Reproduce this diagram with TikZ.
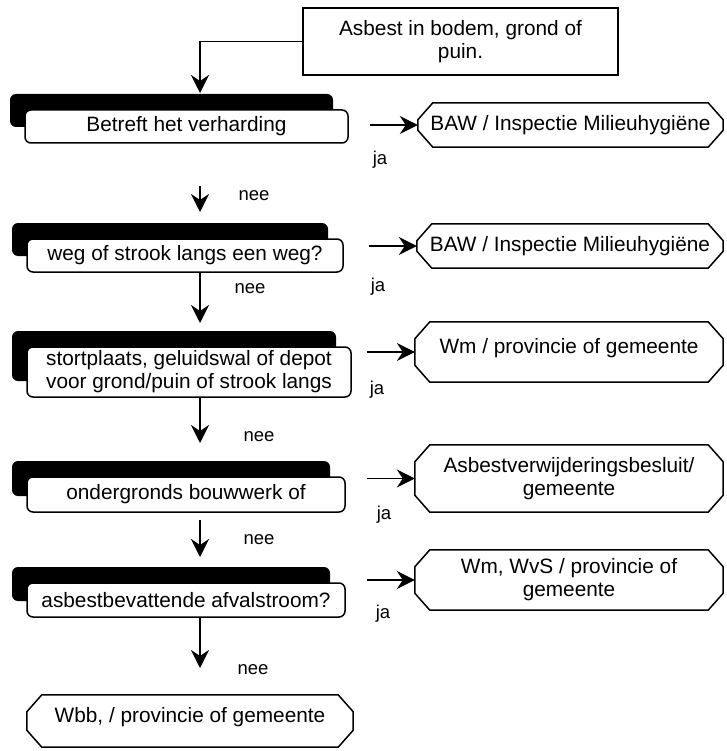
\documentclass[tikz,border=0pt]{standalone}
\usepackage{fontspec}
\setmainfont{Liberation Sans}
\usetikzlibrary{shadows,arrows.meta}
\newcommand\octobox[1]{\draw[line width=1.5pt, line join=miter]
  ([xshift=15pt]#1.north west) -- ([xshift=-15pt]#1.north east) -- ([yshift=-17pt]#1.north east)
  -- ([yshift=17pt]#1.south east) -- ([xshift=-15pt]#1.south east) -- ([xshift=15pt]#1.south west)
  -- ([yshift=17pt]#1.south west) -- ([yshift=-17pt]#1.north west) -- cycle;}
\begin{document}
\begin{tikzpicture}[x=1pt,y=-1pt,
  every node/.style={font=\fontsize{20.8}{23}\selectfont},
  decbox/.style={draw, fill=white, rounded corners=6pt, line width=1.5pt, inner sep=0pt, align=center,
    general shadow={fill=black, shadow xshift=-15pt, shadow yshift=16pt}},
  resbox/.style={inner sep=0pt, align=center},
  arr/.style={line width=1.5pt, -{Stealth[length=18pt,width=18pt,inset=6pt]}},
  lbl/.style={inner sep=0pt, font=\fontsize{18.5}{20}\selectfont},
]
\useasboundingbox (0,0) rectangle (726,751);

% start
\node[draw, line width=1.5pt, minimum width=315pt, minimum height=67pt, align=center, inner sep=0pt]
  (start) at (460.5,41.5) {Asbest in bodem, grond of\\puin.};

% decisions
\node[decbox, minimum width=323pt, minimum height=33pt] (b1) at (186.5,126.5) {Betreft het verharding};
\node[decbox, minimum width=316pt, minimum height=33pt] (b2) at (185,255.5) {weg of strook langs een weg?};
\node[decbox, minimum width=324pt, minimum height=50pt] (b3) at (189,372) {stortplaats, geluidswal of depot\\voor grond/puin of strook langs};
\node[decbox, minimum width=318pt, minimum height=35pt] (b4) at (186,494.5) {ondergronds bouwwerk of};
\node[decbox, minimum width=318pt, minimum height=34pt] (b5) at (186,600) {asbestbevattende afvalstroom?};

% results
\node[resbox, minimum width=305pt, minimum height=44pt] (r1) at (570.5,125) {BAW / Inspectie Milieuhygiëne};
\node[resbox, minimum width=306pt, minimum height=44pt] (r2) at (570,246) {BAW / Inspectie Milieuhygiëne};
\node[resbox, minimum width=308pt, minimum height=60pt, text depth=12pt] (r3) at (569,352) {Wm / provincie of gemeente};
\node[resbox, minimum width=308pt, minimum height=67pt] (r4) at (569,478.5) {Asbestverwijderingsbesluit/\\gemeente};
\node[resbox, minimum width=308pt, minimum height=60pt] (r5) at (569,580) {Wm, WvS / provincie of\\gemeente};
\node[resbox, minimum width=326pt, minimum height=52pt, text depth=12pt] (f) at (190,721) {Wbb, / provincie of gemeente};
\octobox{r1}\octobox{r2}\octobox{r3}\octobox{r4}\octobox{r5}\octobox{f}

% connectors
\coordinate (s1) at (200,93);
\draw[arr] (start.west) -| (s1);
\foreach \i in {1,...,5}{
  \draw[arr] ([xshift=-48pt]r\i.west) -- (r\i.west);
}
\coordinate (d1a) at (200,186); \coordinate (d1b) at (200,212);
\coordinate (d2a) at (200,272); \coordinate (d2b) at (200,323);
\coordinate (d3a) at (200,397); \coordinate (d3b) at (200,443);
\coordinate (d4a) at (200,520); \coordinate (d4b) at (200,557);
\coordinate (d5a) at (200,617); \coordinate (d5b) at (200,668);
\foreach \i in {1,...,5}{ \draw[arr] (d\i a) -- (d\i b); }

% labels
\node[lbl] (ja1) at (380,160) {ja};
\node[lbl] (ja2) at (378,287) {ja};
\node[lbl] (ja3) at (377,390) {ja};
\node[lbl] (ja4) at (384,515) {ja};
\node[lbl] (ja5) at (383,614) {ja};
\node[lbl] (nee1) at (254,196) {nee};
\node[lbl] (nee2) at (250,289) {nee};
\node[lbl] (nee3) at (259,437) {nee};
\node[lbl] (nee4) at (259,540) {nee};
\node[lbl] (nee5) at (253,670) {nee};
\end{tikzpicture}
\end{document}
